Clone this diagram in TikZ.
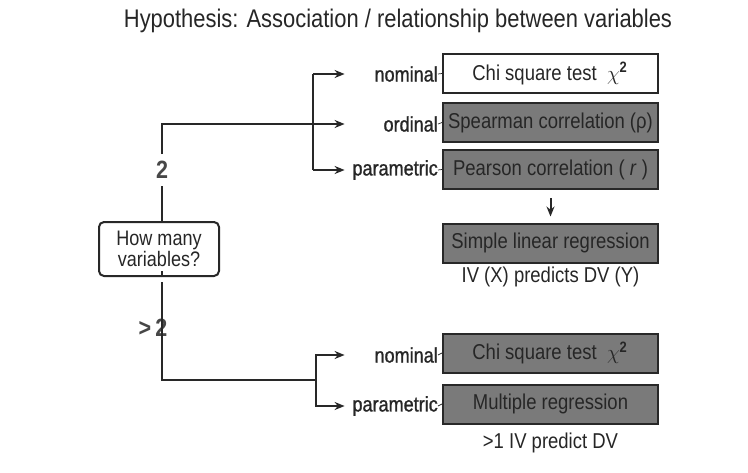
\documentclass[tikz,border=0pt]{standalone}
\usepackage{fontspec}
\setmainfont{Liberation Sans}[FakeStretch=0.86]
\newfontfamily\labfont{Liberation Sans}[FakeStretch=0.86,FakeBold=1.1]
\usetikzlibrary{arrows.meta}
\definecolor{boxgray}{RGB}{122,122,122}
\definecolor{ink}{RGB}{38,38,38}
\definecolor{edge}{RGB}{40,40,40}
\begin{document}
\begin{tikzpicture}[x=1pt,y=-1pt,
  testbox/.style={draw=edge,line width=2pt,fill=boxgray,minimum width=215pt,minimum height=39pt,inner sep=0pt,text=ink,font=\fontsize{21.5}{22}\selectfont},
  whitebox/.style={testbox,fill=white},
  kindlab/.style={anchor=east,text width=93pt,align=right,inner sep=0pt,text=ink,font=\labfont\fontsize{21}{22}\selectfont},
  note/.style={text=ink,font=\fontsize{21.5}{22}\selectfont,inner sep=0pt},
  conn/.style={draw=edge,line width=2pt},
  arr/.style={conn,-{Stealth[length=10pt,width=8pt]}},
  count/.style={text=ink!85,font=\fontsize{25}{26}\selectfont\bfseries,inner sep=1pt}]
\useasboundingbox (0,0) rectangle (748,472);
\fill[white] (0,0) rectangle (748,472);
% title
\node[text=ink,font=\fontsize{25.5}{27}\selectfont,inner sep=0pt] (title) at (398,21) {Hypothesis: Association / relationship between variables};
% boxes
\node[whitebox] (chi1) at (550.5,73.5) {Chi square test\ \ $\chi^{\mathbf{2}}$};
\node[testbox] (spear) at (550.5,122.5) {Spearman correlation (ρ)};
\node[testbox] (pear) at (550.5,169.5) {Pearson correlation ( \textit{r} )};
\node[testbox] (slr) at (550.5,243) {Simple linear regression};
\node[note] (slrnote) at (550.5,277) {IV (X) predicts DV (Y)};
\node[testbox] (chi2) at (550.5,353) {Chi square test\ \ $\chi^{\mathbf{2}}$};
\node[testbox] (mreg) at (550.5,404) {Multiple regression};
\node[note] (mregnote) at (550.5,443) {>1 IV predict DV};
% labels
\node[kindlab] (nom1) at (438,74) {nominal};
\node[kindlab] (ord1) at (438,124) {ordinal};
\node[kindlab] (par1) at (438,170) {parametric};
\node[kindlab] (nom2) at (438,355) {nominal};
\node[kindlab] (par2) at (438,406) {parametric};
\foreach \a/\b in {nom1/chi1,ord1/spear,par1/pear,nom2/chi2,par2/mreg}
  \draw[edge,line width=0.7pt] (\a.east) -- (\b.west);
% question
\node[draw=edge,line width=2pt,rounded corners=5pt,minimum width=120pt,minimum height=54pt,inner sep=0pt,align=center,text=ink,font=\fontsize{21}{19}\selectfont] (q) at (159,249) {How many\\variables?};
\node[count] (two) at (162,170) {2};
\node[count] (gt) at (153,328) {>\,2};
\coordinate (j1) at (313,124);
\coordinate (j2) at (316,380);
% connectors
\draw[conn,shorten >=6pt] (q.north -| two) -- (two.south);
\draw[arr,shorten <=6pt] (two.north) |- (ord1.west);
\draw[arr] (j1 |- nom1.west) -- (nom1.west);
\draw[conn] (j1 |- nom1.west) -- (j1 |- par1.west);
\draw[arr] (j1 |- par1.west) -- (par1.west);
\draw[conn,shorten >=6pt] (q.south -| two) -- (q.south -| two |- gt.north);
\draw[conn,shorten <=5pt] (q.south -| two |- gt.south) |- (j2);
\draw[arr] (j2) |- (nom2.west);
\draw[arr] (j2) |- (par2.west);
\draw[arr,shorten <=8pt,shorten >=6pt] (pear.south) -- (slr.north);
\end{tikzpicture}
\end{document}
